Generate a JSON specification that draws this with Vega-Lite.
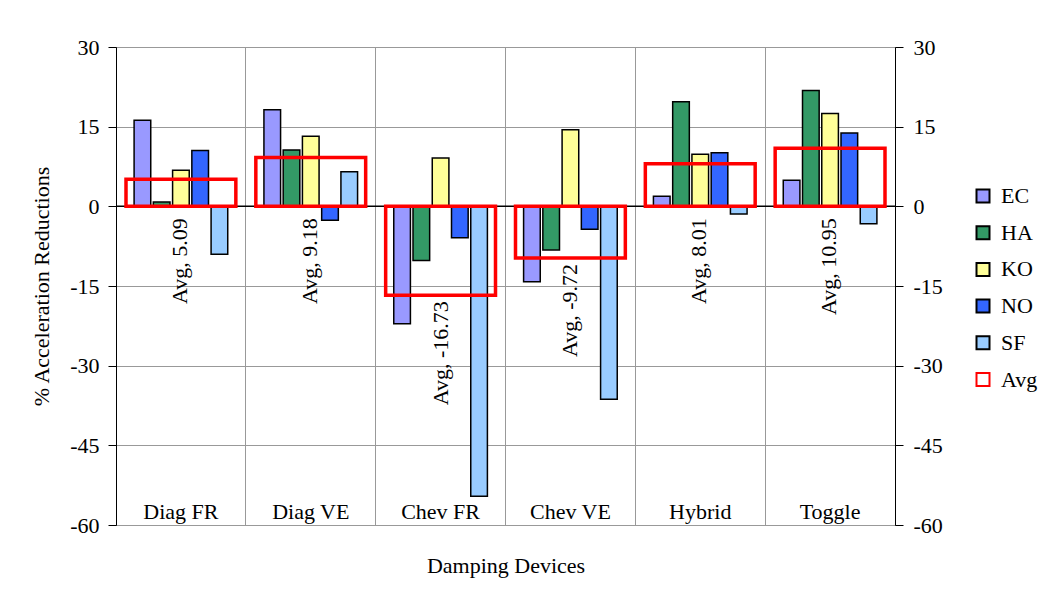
{
  "$schema": "https://vega.github.io/schema/vega-lite/v6.json",
  "width": 779,
  "height": 478,
  "autosize": {"type": "none"},
  "padding": {"left": 116, "top": 47, "right": 144, "bottom": 74},
  "background": "white",
  "config": {
    "font": "Liberation Serif",
    "view": {"stroke": "#555", "strokeWidth": 1},
    "axis": {
      "labelFont": "Liberation Serif",
      "titleFont": "Liberation Serif",
      "labelFontSize": 22,
      "titleFontSize": 22,
      "labelColor": "black",
      "titleColor": "black",
      "titleFontWeight": "normal",
      "domainColor": "black",
      "tickColor": "black",
      "gridColor": "#999",
      "gridWidth": 1
    },
    "legend": {
      "labelFont": "Liberation Serif",
      "labelFontSize": 22,
      "labelColor": "black",
      "symbolType": "square",
      "symbolSize": 169,
      "symbolStrokeWidth": 2,
      "rowPadding": 14.7,
      "labelOffset": 7,
      "padding": 0
    }
  },
  "datasets": {
    "bars": [
      {"device": "Diag FR", "series": "EC", "value": 16.2},
      {"device": "Diag FR", "series": "HA", "value": 0.8},
      {"device": "Diag FR", "series": "KO", "value": 6.8},
      {"device": "Diag FR", "series": "NO", "value": 10.5},
      {"device": "Diag FR", "series": "SF", "value": -9.0},
      {"device": "Diag VE", "series": "EC", "value": 18.2},
      {"device": "Diag VE", "series": "HA", "value": 10.6},
      {"device": "Diag VE", "series": "KO", "value": 13.2},
      {"device": "Diag VE", "series": "NO", "value": -2.6},
      {"device": "Diag VE", "series": "SF", "value": 6.5},
      {"device": "Chev FR", "series": "EC", "value": -22.1},
      {"device": "Chev FR", "series": "HA", "value": -10.2},
      {"device": "Chev FR", "series": "KO", "value": 9.1},
      {"device": "Chev FR", "series": "NO", "value": -5.9},
      {"device": "Chev FR", "series": "SF", "value": -54.6},
      {"device": "Chev VE", "series": "EC", "value": -14.2},
      {"device": "Chev VE", "series": "HA", "value": -8.2},
      {"device": "Chev VE", "series": "KO", "value": 14.4},
      {"device": "Chev VE", "series": "NO", "value": -4.3},
      {"device": "Chev VE", "series": "SF", "value": -36.3},
      {"device": "Hybrid", "series": "EC", "value": 1.9},
      {"device": "Hybrid", "series": "HA", "value": 19.7},
      {"device": "Hybrid", "series": "KO", "value": 9.8},
      {"device": "Hybrid", "series": "NO", "value": 10.1},
      {"device": "Hybrid", "series": "SF", "value": -1.45},
      {"device": "Toggle", "series": "EC", "value": 4.9},
      {"device": "Toggle", "series": "HA", "value": 21.8},
      {"device": "Toggle", "series": "KO", "value": 17.5},
      {"device": "Toggle", "series": "NO", "value": 13.8},
      {"device": "Toggle", "series": "SF", "value": -3.3}
    ],
    "avgs": [
      {"device": "Diag FR", "series": "Avg", "avg": 5.09, "label": "Avg, 5.09"},
      {"device": "Diag VE", "series": "Avg", "avg": 9.18, "label": "Avg, 9.18"},
      {"device": "Chev FR", "series": "Avg", "avg": -16.73, "label": "Avg, -16.73"},
      {"device": "Chev VE", "series": "Avg", "avg": -9.72, "label": "Avg, -9.72"},
      {"device": "Hybrid", "series": "Avg", "avg": 8.01, "label": "Avg, 8.01"},
      {"device": "Toggle", "series": "Avg", "avg": 10.95, "label": "Avg, 10.95"}
    ],
    "zero": [{"z": 0}]
  },
  "layer": [
    {
      "data": {"name": "bars"},
      "mark": {"type": "bar", "strokeWidth": 1.5},
      "encoding": {
        "x": {
          "field": "device", "type": "nominal",
          "sort": ["Diag FR", "Diag VE", "Chev FR", "Chev VE", "Hybrid", "Toggle"],
          "scale": {"paddingInner": 0, "paddingOuter": 0},
          "axis": {
            "orient": "bottom", "title": "Damping Devices", "labelAngle": 0,
            "domain": false, "ticks": false, "tickSize": 0,
            "labelPadding": -7, "labelBaseline": "alphabetic",
            "grid": true, "bandPosition": 0, "labelOverlap": false,
            "titleY": 40, "titleBaseline": "middle"
          }
        },
        "xOffset": {
          "field": "series", "type": "nominal",
          "sort": ["EC", "HA", "KO", "NO", "SF"],
          "scale": {"paddingInner": 0.135, "paddingOuter": 0.94}
        },
        "y": {
          "field": "value", "type": "quantitative",
          "scale": {"domain": [-60, 30], "nice": false, "zero": false},
          "axis": {
            "orient": "left", "title": "% Acceleration Reductions",
            "values": [-60, -45, -30, -15, 0, 15, 30],
            "labelExpr": "'' + datum.value",
            "tickSize": 8, "labelPadding": 9, "grid": true,
            "titleX": -75, "titleY": 239, "titleAngle": 270,
            "titleBaseline": "middle", "titleAlign": "center"
          }
        },
        "fill": {
          "field": "series", "type": "nominal",
          "scale": {"domain": ["EC", "HA", "KO", "NO", "SF", "Avg"], "range": ["#9999FF", "#339966", "#FFFF99", "#3366FF", "#99CCFF", "white"]},
          "legend": {"title": null, "orient": "none", "legendX": 856, "legendY": 138}
        },
        "stroke": {
          "field": "series", "type": "nominal",
          "scale": {"domain": ["EC", "HA", "KO", "NO", "SF", "Avg"], "range": ["black", "black", "black", "black", "black", "#FF0000"]},
          "legend": {"title": null, "orient": "none", "legendX": 856, "legendY": 138}
        }
      }
    },
    {
      "data": {"name": "zero"},
      "mark": {"type": "rule", "color": "black", "strokeWidth": 1.5},
      "encoding": {
        "y": {
          "field": "z", "type": "quantitative",
          "scale": {"domain": [-60, 30], "nice": false, "zero": false},
          "axis": {
            "orient": "right", "title": null,
            "values": [-60, -45, -30, -15, 0, 15, 30],
            "labelExpr": "'' + datum.value",
            "tickSize": 8, "labelPadding": 10, "grid": false
          }
        }
      }
    },
    {
      "data": {"name": "avgs"},
      "mark": {"type": "bar", "width": {"band": 0.846}, "filled": false, "strokeWidth": 3.5},
      "encoding": {
        "x": {"field": "device", "type": "nominal", "sort": ["Diag FR", "Diag VE", "Chev FR", "Chev VE", "Hybrid", "Toggle"], "axis": null},
        "y": {"field": "avg", "type": "quantitative", "scale": {"domain": [-60, 30], "nice": false, "zero": false}, "axis": null},
        "y2": {"datum": 0},
        "stroke": {"field": "series", "type": "nominal", "legend": {"title": null, "orient": "none", "legendX": 856, "legendY": 138}}
      }
    },
    {
      "data": {"name": "avgs"},
      "transform": [{"filter": "datum.avg >= 0"}],
      "mark": {"type": "text", "angle": 270, "align": "right", "baseline": "middle", "dx": -12, "dy": -1, "fontSize": 22, "font": "Liberation Serif", "color": "black"},
      "encoding": {
        "x": {"field": "device", "type": "nominal", "sort": ["Diag FR", "Diag VE", "Chev FR", "Chev VE", "Hybrid", "Toggle"], "axis": null},
        "y": {"datum": 0, "type": "quantitative", "scale": {"domain": [-60, 30], "nice": false, "zero": false}, "axis": null},
        "text": {"field": "label"}
      }
    },
    {
      "data": {"name": "avgs"},
      "transform": [{"filter": "datum.avg < 0"}],
      "mark": {"type": "text", "angle": 270, "align": "right", "baseline": "middle", "dx": -6, "fontSize": 22, "font": "Liberation Serif", "color": "black"},
      "encoding": {
        "x": {"field": "device", "type": "nominal", "sort": ["Diag FR", "Diag VE", "Chev FR", "Chev VE", "Hybrid", "Toggle"], "axis": null},
        "y": {"field": "avg", "type": "quantitative", "scale": {"domain": [-60, 30], "nice": false, "zero": false}, "axis": null},
        "text": {"field": "label"}
      }
    }
  ],
  "resolve": {"axis": {"x": "independent", "y": "independent"}}
}
